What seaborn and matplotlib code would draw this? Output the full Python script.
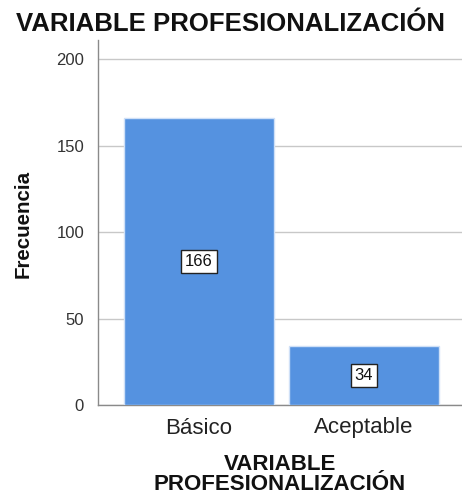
import matplotlib
matplotlib.use("Agg")
import matplotlib.pyplot as plt
import seaborn as sns
import pandas as pd

# Frequencies per level of the variable
categorias = ["Básico", "Aceptable"]
frecuencias = [166, 34]
y_ticks = [0, 50, 100, 150, 200]

titulo = "VARIABLE PROFESIONALIZACIÓN"
etiqueta_x = "VARIABLE\nPROFESIONALIZACIÓN"
etiqueta_y = "Frecuencia"

sns.set_theme(style="white")
plt.rcParams["font.family"] = ["Liberation Sans", "DejaVu Sans"]

df = pd.DataFrame({"categoria": categorias, "frecuencia": frecuencias})

fig = plt.figure(figsize=(4.62, 4.97), dpi=100)
ax = fig.add_axes([98 / 462, 92 / 497, 364 / 462, 365 / 497])

sns.barplot(data=df, x="categoria", y="frecuencia", ax=ax, color="#5592e0",
            saturation=1, width=0.91, edgecolor="#cfe0f7", linewidth=1.0,
            zorder=3)

ax.set_xlim(-0.612, 1.594)
ax.set_ylim(0, 211)
ax.set_yticks(y_ticks)
ax.yaxis.grid(True, color="#c8c8c8", linewidth=1.0, zorder=0)
ax.xaxis.grid(False)
ax.set_axisbelow(True)

for side in ["top", "right"]:
    ax.spines[side].set_visible(False)
for side in ["left", "bottom"]:
    ax.spines[side].set_color("#8a8a8a")
    ax.spines[side].set_linewidth(1.0)

ax.tick_params(axis="y", length=0, pad=10, labelsize=12, labelcolor="#333333")
ax.tick_params(axis="x", length=0, pad=9, labelsize=16, labelcolor="#222222")

# Value boxes at mid-height of each bar
for i, v in enumerate(frecuencias):
    ax.text(i, v / 2, str(v), ha="center", va="center", fontsize=12,
            color="#111111", zorder=5,
            bbox=dict(boxstyle="square,pad=0.22", facecolor="white",
                      edgecolor="#222222", linewidth=1.0))

ax.set_xlabel(etiqueta_x, fontsize=16, fontweight="bold", linespacing=0.9,
              color="#111111")
ax.set_ylabel(etiqueta_y, fontsize=14.8, fontweight="bold",
              color="#111111")
ax.xaxis.set_label_coords(0.5, -0.135, transform=ax.transAxes)
ax.yaxis.set_label_coords(-0.179, 0.496, transform=ax.transAxes)

fig.text(0.5, 0.951, titulo, ha="center", va="center", fontsize=18.5,
         fontweight="bold", color="#111111")

fig.savefig("out.png", dpi=100)
